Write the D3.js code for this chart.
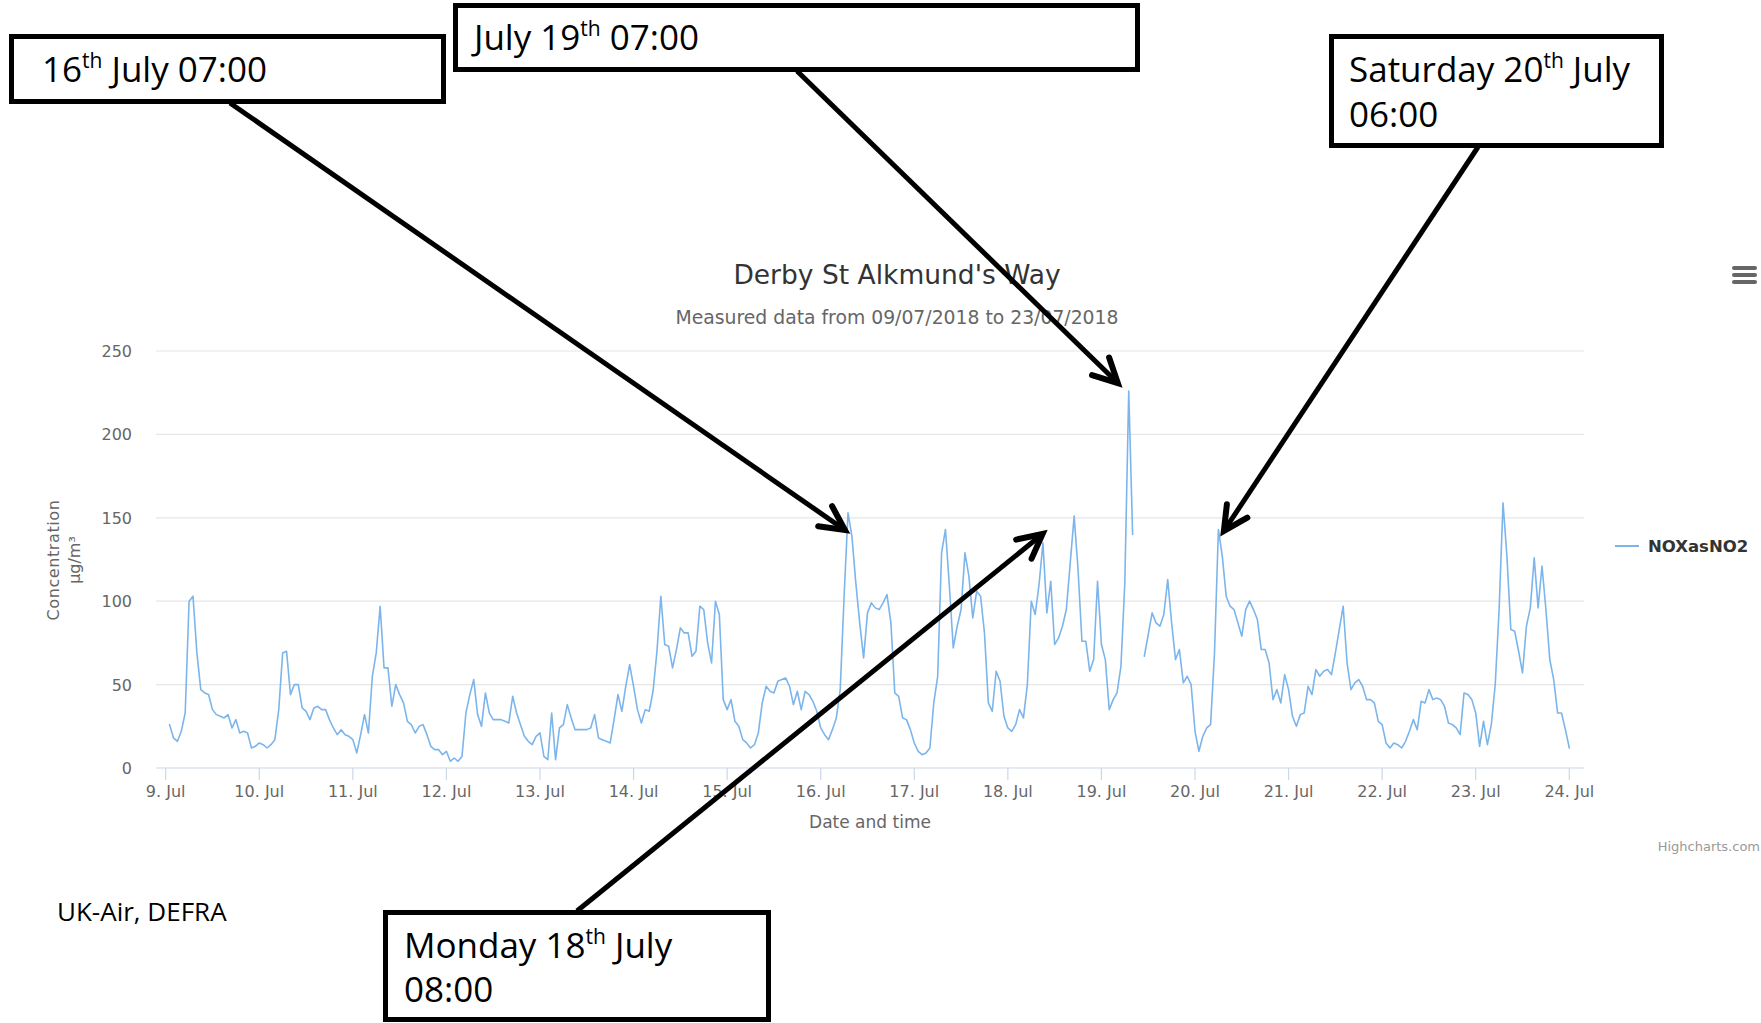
<!DOCTYPE html>
<html><head><meta charset="utf-8">
<script src="https://cdn.jsdelivr.net/npm/d3@7"></script>
<style>html,body{margin:0;padding:0;background:#fff;} svg{display:block;}</style>
</head><body>
<svg id="chart" width="1761" height="1023"></svg>
<script>
// ---------------- DATA ----------------
const chartTitle = "Derby St Alkmund's Way";
const chartSubtitle = "Measured data from 09/07/2018 to 23/07/2018";
const seriesName = "NOXasNO2";
const xAxisTitle = "Date and time";
const yAxisTitleLines = ["Concentration", "µg/m³"];
const sourceNote = "UK-Air, DEFRA";
const creditText = "Highcharts.com";

// hourly readings starting 09/07/2018 01:00 (UTC), one per hour, null = missing
const firstReading = Date.UTC(2018, 6, 9, 1);
const noxValues = [
  26,18,16,22,33,100,103,69,47,45,44,35,32,31,30,32,24,29,21,22,21,12,13,15,
  14,12,14,17,35,69,70,44,50,50,36,34,29,36,37,35,35,29,24,20,23,20,19,17,
  9,20,32,21,55,69,97,60,60,37,50,44,39,28,26,21,25,26,20,13,11,11,8,10,
  4,6,4,7,33,44,53,32,25,45,33,29,29,29,28,27,43,33,26,19,16,14,19,21,
  7,5,33,5,24,26,38,30,23,23,23,23,24,32,18,17,16,15,29,44,34,49,62,49,
  35,27,35,34,46,70,103,74,73,60,71,84,81,81,67,70,97,95,75,63,100,92,41,35,
  41,28,25,17,15,12,14,21,39,49,46,45,52,53,54,49,38,46,35,46,44,40,34,24,
  20,17,23,30,47,103,153,139,111,87,66,93,99,96,95,99,104,87,45,43,30,29,23,15,
  10,8,9,12,39,55,129,143,109,72,85,95,129,115,90,106,103,81,39,34,58,52,31,24,
  22,26,35,30,50,100,92,110,135,93,112,74,78,85,95,123,151,119,76,76,58,65,112,74,
  65,35,41,45,61,111,226,140,null,null,67,80,93,87,85,92,113,87,65,71,51,55,50,22,
  10,19,24,26,69,143,127,103,97,95,87,79,95,100,95,89,71,71,63,41,47,39,56,47,
  31,25,32,33,49,44,59,55,58,59,56,69,83,97,63,47,51,53,49,41,41,39,28,26,
  15,12,15,14,12,16,22,29,23,40,39,47,41,42,41,37,27,26,24,20,45,44,41,33,
  13,28,14,26,50,95,159,127,83,82,70,57,85,96,126,96,121,95,65,53,33,33,23,12
];

const yTickValues = [0, 50, 100, 150, 200, 250];
const xTickDays = [9,10,11,12,13,14,15,16,17,18,19,20,21,22,23,24];
const xTickLabels = ["9. Jul","10. Jul","11. Jul","12. Jul","13. Jul","14. Jul","15. Jul","16. Jul",
                     "17. Jul","18. Jul","19. Jul","20. Jul","21. Jul","22. Jul","23. Jul","24. Jul"];

// annotation texts: each line is a list of [text, isSuperscript]
const annotationLines = [
  [[["16",0],["th",1],[" July 07:00",0]]],
  [[["July 19",0],["th",1],[" 07:00",0]]],
  [[["Saturday 20",0],["th",1],[" July",0]], [["06:00",0]]],
  [[["Monday 18",0],["th",1],[" July",0]], [["08:00",0]]]
];
// where each arrow points, in data units (hours after 09/07 00:00, concentration)
const annotationTipHour = [174.2, 244.2, 271.4, 224.9];
const annotationTipValue = [142.7, 230.8, 142.1, 140.3];

// ---------------- LAYOUT ----------------
const svg = d3.select("#chart");
const plotLeft = 156, plotRight = 1584;
const chartFont = "'DejaVu Sans', Verdana, sans-serif";
const noteFont = "'Open Sans', 'Noto Sans', sans-serif";

const dayUTC = d => new Date(Date.UTC(2018, 6, d));
const x = d3.scaleUtc().domain([dayUTC(9), dayUTC(24)]).range([165.7, 1569.3]);
const y = d3.scaleLinear().domain([0, 250]).range([768, 351]);

const points = noxValues.map((v, i) => ({t: new Date(firstReading + i * 3600e3), v}));

// grid lines
svg.append("g").selectAll("line").data(yTickValues.filter(v => v > 0)).join("line")
  .attr("x1", plotLeft).attr("x2", plotRight)
  .attr("y1", d => y(d)).attr("y2", d => y(d))
  .attr("stroke", "#e6e6e6").attr("stroke-width", 1.2);

// y labels
svg.append("g").selectAll("text").data(yTickValues).join("text")
  .attr("x", 132).attr("y", d => y(d) + 6)
  .attr("text-anchor", "end")
  .attr("font-family", chartFont).attr("font-size", 16).attr("fill", "#666")
  .text(d => d);

// x axis line and ticks
svg.append("line").attr("x1", plotLeft).attr("x2", plotRight)
  .attr("y1", y(0)).attr("y2", y(0)).attr("stroke", "#ccd6eb").attr("stroke-width", 1.2);
const xt = svg.append("g");
xt.selectAll("line").data(xTickDays).join("line")
  .attr("x1", d => x(dayUTC(d))).attr("x2", d => x(dayUTC(d)))
  .attr("y1", y(0)).attr("y2", y(0) + 12)
  .attr("stroke", "#ccd6eb").attr("stroke-width", 1.2);
xt.selectAll("text").data(xTickDays).join("text")
  .attr("x", d => x(dayUTC(d))).attr("y", 797)
  .attr("text-anchor", "middle")
  .attr("font-family", chartFont).attr("font-size", 16).attr("fill", "#666")
  .text((d, i) => xTickLabels[i]);

// axis titles
svg.append("text").attr("x", 870).attr("y", 828).attr("text-anchor", "middle")
  .attr("font-family", chartFont).attr("font-size", 17).attr("fill", "#666").text(xAxisTitle);
const yt = svg.append("text").attr("transform", "translate(59,560) rotate(-90)")
  .attr("text-anchor", "middle").attr("font-family", chartFont).attr("font-size", 16)
  .attr("fill", "#666");
yt.append("tspan").attr("x", 0).attr("y", 0).attr("letter-spacing", 0.6).text(yAxisTitleLines[0]);
yt.append("tspan").attr("x", 0).attr("y", 21).text(yAxisTitleLines[1]);

// title / subtitle
svg.append("text").attr("x", 897).attr("y", 284).attr("text-anchor", "middle")
  .attr("font-family", chartFont).attr("font-size", 26.5).attr("fill", "#333").text(chartTitle);
svg.append("text").attr("x", 897).attr("y", 324).attr("text-anchor", "middle")
  .attr("font-family", chartFont).attr("font-size", 18.8).attr("fill", "#666").text(chartSubtitle);

// series line
const line = d3.line().defined(d => d.v != null).x(d => x(d.t)).y(d => y(d.v));
svg.append("path").datum(points).attr("d", line)
  .attr("fill", "none").attr("stroke", "#7cb5ec").attr("stroke-width", 1.6)
  .attr("stroke-linejoin", "round").attr("stroke-linecap", "round");

// legend
svg.append("line").attr("x1", 1615).attr("x2", 1639).attr("y1", 546).attr("y2", 546)
  .attr("stroke", "#7cb5ec").attr("stroke-width", 2);
svg.append("text").attr("x", 1648).attr("y", 552)
  .attr("font-family", chartFont).attr("font-size", 16.5).attr("font-weight", "bold")
  .attr("fill", "#333").text(seriesName);

// export menu icon
svg.append("g").selectAll("rect").data([268, 275, 282]).join("rect")
  .attr("x", 1732).attr("y", d => d - 2).attr("width", 25).attr("height", 4)
  .attr("rx", 2).attr("fill", "#666");

// credit
svg.append("text").attr("x", 1760).attr("y", 851).attr("text-anchor", "end")
  .attr("font-family", chartFont).attr("font-size", 13).attr("fill", "#999").text(creditText);

// source note
svg.append("text").attr("x", 57).attr("y", 921)
  .attr("font-family", noteFont).attr("font-size", 26).attr("fill", "#000").text(sourceNote);

// annotations
const boxLayout = [
  {x: 9,    y: 34,  w: 437, h: 70,  tx: 42,   ty: [82],        tail: [230, 103]},
  {x: 453,  y: 3,   w: 687, h: 69,  tx: 474,  ty: [50],        tail: [797, 71]},
  {x: 1329, y: 34,  w: 335, h: 114, tx: 1349, ty: [82, 127],   tail: [1478, 147]},
  {x: 383,  y: 910, w: 388, h: 112, tx: 404,  ty: [958, 1002], tail: [577, 911]}
];
const annG = svg.append("g");
const sw = 5;
boxLayout.forEach((b, i) => {
  annG.append("rect").attr("x", b.x + sw/2).attr("y", b.y + sw/2)
    .attr("width", b.w - sw).attr("height", b.h - sw)
    .attr("fill", "#fff").attr("stroke", "#000").attr("stroke-width", sw);
  annotationLines[i].forEach((segs, li) => {
    const t = annG.append("text").attr("x", b.tx).attr("y", b.ty[li])
      .attr("font-family", noteFont).attr("font-size", 35).attr("fill", "#000");
    segs.forEach(([s, sup], k) => {
      if (sup) t.append("tspan").attr("font-size", 21).attr("dy", -14).text(s);
      else {
        const ts = t.append("tspan").text(s);
        if (k > 0) ts.attr("dy", 14);
      }
    });
  });
  // arrow
  const tip = [x(new Date(Date.UTC(2018,6,9) + annotationTipHour[i] * 3600e3)), y(annotationTipValue[i])];
  const [tx0, ty0] = b.tail;
  const dx = tip[0] - tx0, dy = tip[1] - ty0, len = Math.hypot(dx, dy);
  const ux = dx / len, uy = dy / len;
  const armLen = 27, ang = 27 * Math.PI / 180;
  const arm = s => {
    const c = Math.cos(s * ang), sn = Math.sin(s * ang);
    return [tip[0] + (-ux * c + uy * sn) * armLen, tip[1] + (-ux * sn - uy * c) * armLen];
  };
  const a1 = arm(1), a2 = arm(-1);
  annG.append("line").attr("x1", tx0).attr("y1", ty0).attr("x2", tip[0]).attr("y2", tip[1])
    .attr("stroke", "#000").attr("stroke-width", sw);
  annG.append("path").attr("d", `M${a1[0]},${a1[1]}L${tip[0]},${tip[1]}L${a2[0]},${a2[1]}`)
    .attr("fill", "none").attr("stroke", "#000").attr("stroke-width", sw + 1)
    .attr("stroke-linecap", "round").attr("stroke-linejoin", "miter");
});
</script>
</body></html>
